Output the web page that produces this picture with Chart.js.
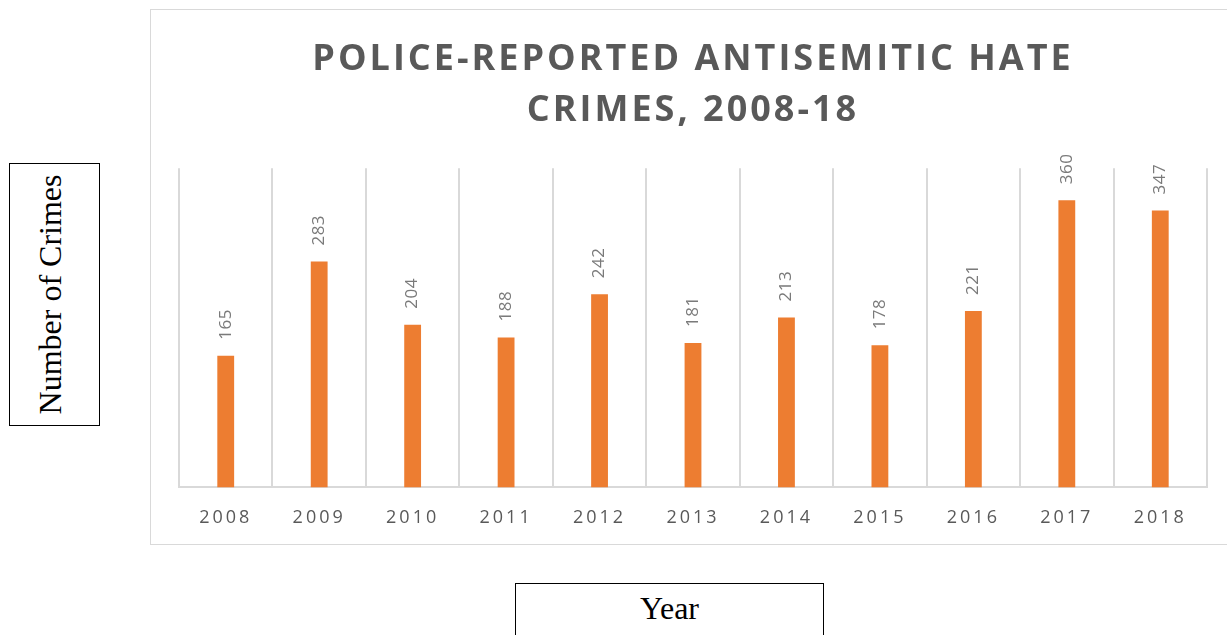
<!DOCTYPE html>
<html>
<head>
<meta charset="utf-8">
<script src="https://cdn.jsdelivr.net/npm/chart.js@4"></script>
<style>
  html, body { margin: 0; padding: 0; background: #fff; overflow: hidden; }
  body { width: 1227px; height: 635px; position: relative; }
  #chartBox {
    position: absolute; left: 150px; top: 9px; width: 1085px; height: 536px;
    border: 1px solid #d9d9d9; box-sizing: border-box; background: #fff;
  }
  #chartBox canvas { display: block; }
  .axisBox {
    position: absolute; border: 1px solid #000; box-sizing: border-box;
    font-family: "Liberation Serif", "Times New Roman", serif; font-size: 32px; color: #000;
    display: flex; align-items: center; justify-content: center; background: #fff;
  }
  #yBox { left: 9px; top: 163px; width: 91px; height: 263px; padding-right: 8px; }
  #yBox span { transform: rotate(-90deg); white-space: nowrap; display: block; }
  #xBox { left: 515px; top: 583px; width: 309px; height: 60px; align-items: flex-start; padding-top: 6px; }
</style>
</head>
<body>
<div id="chartBox"><canvas id="barChart"></canvas></div>
<div id="yBox" class="axisBox"><span>Number of Crimes</span></div>
<div id="xBox" class="axisBox">Year</div>
<script>
const years = ['2008', '2009', '2010', '2011', '2012', '2013', '2014', '2015', '2016', '2017', '2018'];
const crimes = [165, 283, 204, 188, 242, 181, 213, 178, 221, 360, 347];
const titleLines = ['POLICE-REPORTED ANTISEMITIC HATE', 'CRIMES, 2008-18'];

document.addEventListener('DOMContentLoaded', function() {
    const ctx = document.getElementById('barChart').getContext('2d');

    // letter spacing for title and ticks (Excel-style spaced text)
    const spacing = {
        id: 'spacing',
        beforeDraw(chart) { chart.ctx.letterSpacing = '3px'; },
        afterDraw(chart) { chart.ctx.letterSpacing = '0px'; }
    };

    // rotated value labels above bars
    const valueLabels = {
        id: 'valueLabels',
        afterDatasetsDraw(chart) {
            const c = chart.ctx;
            const meta = chart.getDatasetMeta(0);
            c.save();
            c.letterSpacing = '0.5px';
            c.font = '17px "Open Sans", sans-serif';
            c.fillStyle = '#7a7a7a';
            c.textAlign = 'left';
            c.textBaseline = 'middle';
            meta.data.forEach((bar, i) => {
                c.save();
                c.translate(bar.x, bar.y - 16);
                c.rotate(-Math.PI / 2);
                c.fillText(String(crimes[i]), 0, 0);
                c.restore();
            });
            c.restore();
        }
    };

    new Chart(ctx, {
        type: 'bar',
        data: {
            labels: years,
            datasets: [{
                data: crimes,
                backgroundColor: '#ed7d31',
                barPercentage: 0.18,
                categoryPercentage: 1
            }]
        },
        options: {
            responsive: true,
            maintainAspectRatio: false,
            animation: false,
            layout: { padding: { left: 28, right: 27, top: 24, bottom: -5 } },
            plugins: {
                legend: { display: false },
                tooltip: { enabled: false },
                title: {
                    display: true,
                    text: titleLines,
                    color: '#595959',
                    font: { family: '"Open Sans", sans-serif', size: 36, weight: 'bold', lineHeight: 1.42 },
                    padding: { top: 0, bottom: 32 }
                }
            },
            scales: {
                x: {
                    grid: { display: true, offset: true, color: '#d9d9d9', lineWidth: 2, drawTicks: false },
                    border: { display: true, color: '#d9d9d9', width: 2 },
                    ticks: {
                        color: '#595959',
                        padding: 20,
                        font: { family: '"Open Sans", sans-serif', size: 18 }
                    }
                },
                y: {
                    display: false,
                    min: 0,
                    max: 400
                }
            }
        },
        plugins: [spacing, valueLabels]
    });
});
</script>
</body>
</html>
